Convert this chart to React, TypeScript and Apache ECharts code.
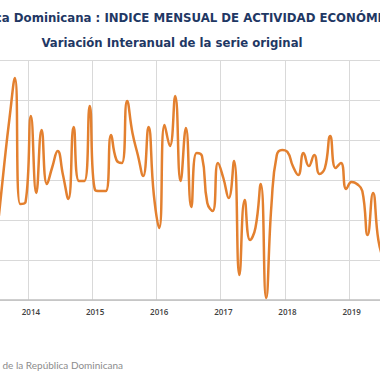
import React, { useEffect, useRef } from "react";
import * as echarts from "echarts";

const TITLE = "República Dominicana : INDICE MENSUAL DE ACTIVIDAD ECONÓMICA (IMAE)";
const SUBTITLE = "Variación Interanual de la serie original";
const SOURCE = "Fuente: Banco Central de la República Dominicana";

const years = [2013, 2014, 2015, 2016, 2017, 2018, 2019];
const monthCodes = ["01", "02", "03", "04", "05", "06", "07", "08", "09", "10", "11", "12"];

// Variación interanual (%), Jul 2013 .. Jul 2019
const firstDataMonth = "2013-07";
const values = [
  4.2, 6.75, 9.1, 11.1, 4.8, 4.9,
  9.2, 5.35, 8.5, 5.8, 6.65, 7.45, 6.25, 5.05, 8.65, 5.95, 5.95, 9.7,
  5.5, 5.45, 5.45, 8.25, 7.0, 6.85, 9.95, 8.35, 7.25, 6.2, 8.65, 5.25,
  3.6, 8.75, 7.7, 10.2, 5.95, 8.6, 4.65, 7.35, 7.2, 4.85, 4.45, 6.85,
  6.1, 5.1, 6.95, 1.25, 5.0, 3.0, 3.6, 5.8, 0.1, 4.75, 7.25, 7.5,
  7.4, 6.7, 6.25, 7.35, 6.7, 7.25, 6.3, 6.6, 8.2, 6.6, 6.85, 5.55,
  5.9, 5.8, 5.45, 3.25, 5.35, 3.0, 2.0,
];

const yMin = 0;
const yMax = 12;
const yStep = 2;

export default function App() {
  const ref = useRef<HTMLDivElement>(null);

  useEffect(() => {
    if (!ref.current) return;
    const chart = echarts.init(ref.current, null, { renderer: "svg" });

    const categories: string[] = [];
    years.forEach((y) => monthCodes.forEach((m) => categories.push(`${y}-${m}`)));
    const start = categories.indexOf(firstDataMonth);
    const seriesData = categories.map((_, i) => {
      const j = i - start;
      return j >= 0 && j < values.length ? values[j] : null;
    });

    chart.setOption({
      animation: false,
      backgroundColor: "#ffffff",
      grid: { left: 24.1, right: 26.9, top: 60, bottom: 80 },
      xAxis: {
        type: "category",
        data: categories,
        boundaryGap: true,
        axisLine: { show: true, lineStyle: { color: "#bfbfbf", width: 1.5 } },
        axisTick: { show: false },
        axisLabel: {
          interval: (i: number) => i % 12 === 0,
          formatter: (v: string) => v.slice(0, 4),
          margin: 7,
          fontSize: 8,
          fontWeight: 600,
          fontFamily: "Open Sans",
          color: "#404040",
        },
        splitLine: {
          show: true,
          interval: (i: number) => i % 12 === 0,
          lineStyle: { color: "#d9d9d9", width: 1 },
        },
      },
      yAxis: {
        type: "value",
        min: yMin,
        max: yMax,
        interval: yStep,
        axisLine: { show: false },
        axisTick: { show: false },
        axisLabel: { show: false },
        splitLine: { show: true, lineStyle: { color: "#d9d9d9", width: 1 } },
      },
      series: [
        {
          type: "line",
          data: seriesData,
          smooth: 0.5,
          showSymbol: false,
          connectNulls: false,
          lineStyle: { color: "#e3802f", width: 2.5 },
          itemStyle: { color: "#e3802f" },
        },
      ],
      graphic: [
        {
          type: "text",
          x: 4.6,
          y: 18,
          style: {
            text: TITLE,
            fontFamily: "DejaVu Sans",
            fontWeight: "bold",
            fontSize: 11.75,
            fill: "#1f3864",
            textAlign: "left",
            textVerticalAlign: "middle",
          },
        },
        {
          type: "text",
          x: 232,
          y: 42.5,
          style: {
            text: SUBTITLE,
            fontFamily: "DejaVu Sans",
            fontWeight: "bold",
            fontSize: 11.7,
            fill: "#1f3864",
            textAlign: "center",
            textVerticalAlign: "middle",
          },
        },
        {
          type: "text",
          x: 183,
          y: 365,
          style: {
            text: SOURCE,
            fontFamily: "Lato",
            fontSize: 10,
            fill: "#8c8c8c",
            textAlign: "right",
            textVerticalAlign: "middle",
          },
        },
      ],
    });

    return () => chart.dispose();
  }, []);

  return (
    <div
      style={{
        position: "fixed",
        left: 0,
        top: 0,
        width: 380,
        height: 380,
        overflow: "hidden",
        background: "#ffffff",
      }}
    >
      <div
        ref={ref}
        style={{ position: "absolute", left: -60, top: 0, width: 500, height: 380 }}
      />
    </div>
  );
}
